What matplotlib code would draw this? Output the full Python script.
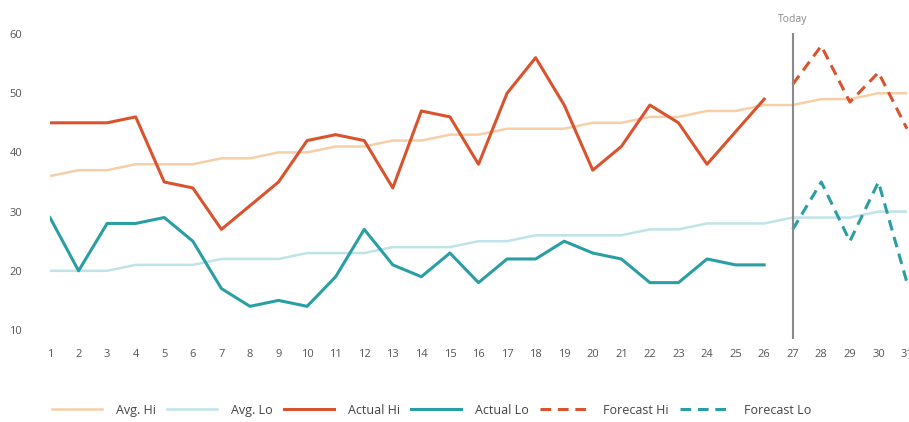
import matplotlib
matplotlib.use("Agg")
import matplotlib.pyplot as plt

# Дні місяця
days = list(range(1, 32))
actual_days = list(range(1, 27))
forecast_days = list(range(27, 32))

# Середні значення
avg_hi = [36, 37, 37, 38, 38, 38, 39, 39, 40, 40, 41, 41, 42, 42, 43, 43,
          44, 44, 44, 45, 45, 46, 46, 47, 47, 48, 48, 49, 49, 50, 50]
avg_lo = [20, 20, 20, 21, 21, 21, 22, 22, 22, 23, 23, 23, 24, 24, 24, 25,
          25, 26, 26, 26, 26, 27, 27, 28, 28, 28, 29, 29, 29, 30, 30]

# Фактичні значення
actual_hi = [45, 45, 45, 46, 35, 34, 27, 31, 35, 42, 43, 42, 34, 47, 46, 38,
             50, 56, 48, 37, 41, 48, 45, 38, 43.5, 49]
actual_lo = [29, 20, 28, 28, 29, 25, 17, 14, 15, 14, 19, 27, 21, 19, 23, 18,
             22, 22, 25, 23, 22, 18, 18, 22, 21, 21]

# Прогноз
forecast_hi = [51.5, 58, 48.5, 53.5, 44]
forecast_lo = [27, 35, 25, 35, 18]

today = 27
y_ticks = [10, 20, 30, 40, 50, 60]

plt.rcParams["font.family"] = ["Open Sans", "DejaVu Sans"]

fig = plt.figure(figsize=(9.09, 4.22), dpi=100)
ax = fig.add_axes([0.055, 0.218, 0.9428, 0.7014])

ax.plot(days, avg_hi, color="#f6cfa8", lw=1.8, label="Avg. Hi")
ax.plot(days, avg_lo, color="#bfe3e8", lw=1.8, label="Avg. Lo")
ax.plot(actual_days, actual_hi, color="#d9532e", lw=2.2, label="Actual Hi")
ax.plot(actual_days, actual_lo, color="#2a9fa3", lw=2.2, label="Actual Lo")
ax.plot(forecast_days, forecast_hi, color="#d9532e", lw=2.2, ls=(0, (3.5, 2.2)),
        label="Forecast Hi", clip_on=False)
ax.plot(forecast_days, forecast_lo, color="#2a9fa3", lw=2.2, ls=(0, (3.5, 2.2)),
        label="Forecast Lo", clip_on=False)

# Лінія "Today"
ax.plot([today, today], [60, 8.6], color="#8a8a8a", lw=1.5, clip_on=False)
ax.text(today, 61.5, "Today", ha="center", va="bottom", fontsize=7.5,
        color="#8a8a8a")

ax.set_xlim(1, 31)
ax.set_ylim(10, 60)
ax.set_xticks(days)
ax.set_yticks(y_ticks)
ax.tick_params(axis="both", length=0, labelsize=8, labelcolor="#555555")
ax.tick_params(axis="x", pad=14)
ax.tick_params(axis="y", pad=20)
for s in ax.spines.values():
    s.set_visible(False)

fig.legend(loc="center", bbox_to_anchor=(0.475, 0.028), ncol=6, frameon=False,
           fontsize=9, handlelength=4.0, columnspacing=0.9, handletextpad=1.1,
           labelcolor="#444444")

fig.savefig("out.png", dpi=100)
